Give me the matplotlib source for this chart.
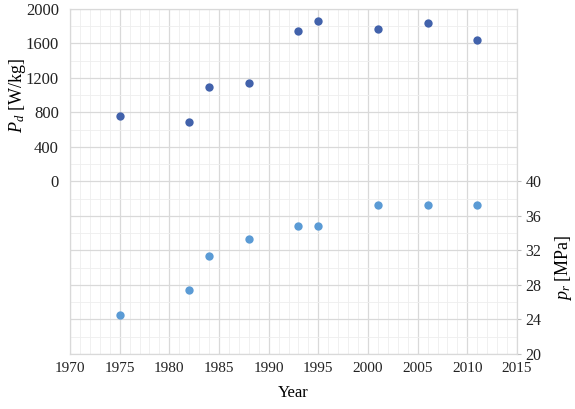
import matplotlib
matplotlib.use("Agg")
import matplotlib.pyplot as plt
from matplotlib.ticker import MultipleLocator, FixedLocator, FuncFormatter

plt.rcParams['font.family'] = ['Liberation Serif', 'DejaVu Serif']
plt.rcParams['mathtext.fontset'] = 'custom'
plt.rcParams['mathtext.rm'] = 'Liberation Serif'
plt.rcParams['mathtext.it'] = 'Liberation Serif:italic'

years_pd = [1975, 1982, 1984, 1988, 1993, 1995, 2001, 2006, 2011]
power_density = [760, 690, 1100, 1140, 1750, 1860, 1770, 1840, 1640]
years_pr = [1975, 1982, 1984, 1988, 1993, 1995, 2001, 2006, 2011]
pressure = [24.5, 27.4, 31.4, 33.3, 34.8, 34.8, 37.3, 37.3, 37.3]

left_ticks = [0, 400, 800, 1200, 1600, 2000]
right_ticks = [20, 24, 28, 32, 36, 40]
x_ticks = [1970, 1975, 1980, 1985, 1990, 1995, 2000, 2005, 2010, 2015]

fig = plt.figure(figsize=(5.75, 4.09), dpi=100)
ax = fig.add_axes([0.1217, 0.1345, 0.7774, 0.8435])
ax2 = ax.twinx()

major_c = '#d9d9d9'
minor_c = '#eeeeee'

ax.set_xlim(1970, 2015)
ax.set_ylim(-2000, 2000)
ax.set_xticks(x_ticks)
ax.xaxis.set_minor_locator(MultipleLocator(1))
ax.yaxis.set_major_locator(MultipleLocator(400))
ax.yaxis.set_minor_locator(MultipleLocator(200))
ax.yaxis.set_major_formatter(FuncFormatter(lambda v, p: f"{int(round(v))}" if v >= 0 else ""))
ax.grid(which='major', color=major_c, linewidth=0.9)
ax.grid(which='minor', color=minor_c, linewidth=0.6)
ax.set_axisbelow(True)
ax.tick_params(which='both', length=0, colors='#222222')
ax.tick_params(axis='x', labelsize=11, pad=6)
ax.tick_params(axis='y', labelsize=12, pad=8)
for s in ax.spines.values():
    s.set_color(major_c)
for s in ax2.spines.values():
    s.set_color(major_c)

ax2.set_ylim(20, 60)
ax2.yaxis.set_major_locator(FixedLocator(right_ticks))
ax2.tick_params(axis='y', length=3, labelsize=11.5, labelcolor='#222222', color='#bfbfbf', pad=3)

ax.scatter(years_pd, power_density, s=36, color='#4262ab', zorder=3, linewidths=0)
ax2.scatter(years_pr, pressure, s=36, color='#5b9bd5', zorder=3, linewidths=0)

ax.set_xlabel('Year', fontsize=12, labelpad=7)
ax.set_ylabel('$P_d$ [W/kg]', fontsize=13)
ax.yaxis.set_label_coords(-0.094, 0.75)
ax2.set_ylabel('$p_r$ [MPa]', fontsize=13)
ax2.yaxis.set_label_coords(1.08, 0.25)

fig.savefig('out.png', dpi=100)
